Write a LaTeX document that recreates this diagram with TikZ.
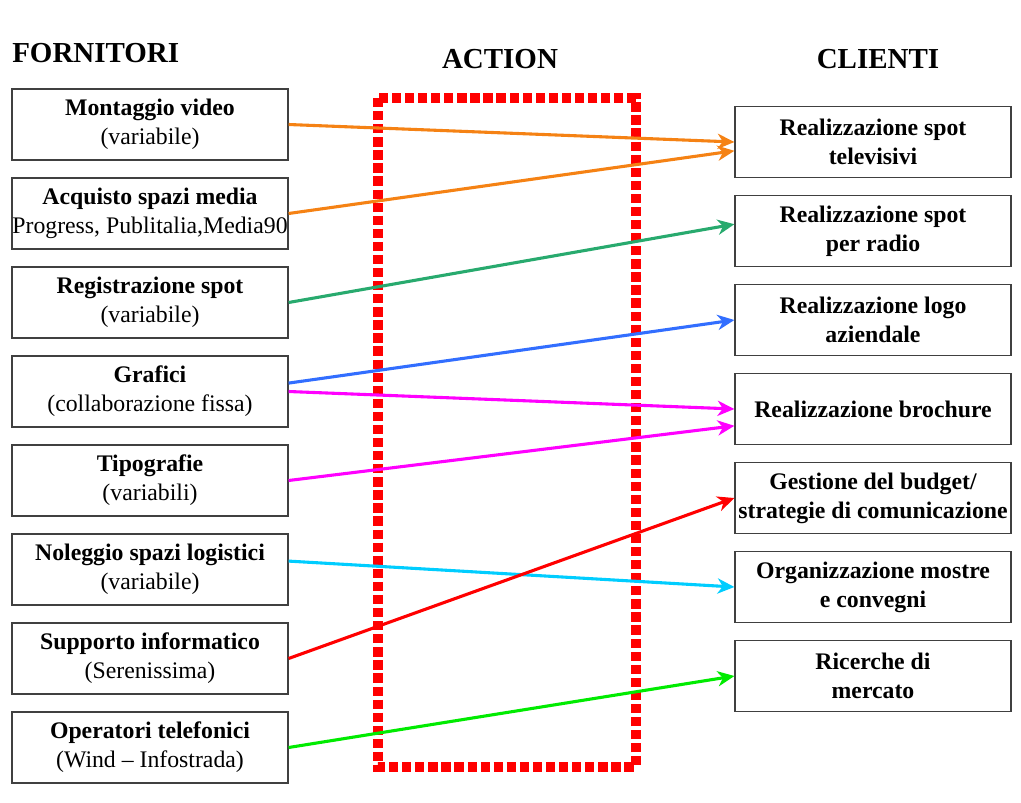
\documentclass[tikz,border=0pt]{standalone}
\usepackage{fontspec}
\setmainfont{Liberation Serif}
\usepackage{tikz}
\usetikzlibrary{arrows.meta, positioning}

\definecolor{cOrange}{RGB}{245,130,20}
\definecolor{cTeal}{RGB}{40,170,110}
\definecolor{cBlue}{RGB}{50,110,255}
\definecolor{cMagenta}{RGB}{255,0,255}
\definecolor{cCyan}{RGB}{0,205,255}
\definecolor{cRed}{RGB}{255,0,0}
\definecolor{cGreen}{RGB}{0,235,0}

\begin{document}
\begin{tikzpicture}[
  x=0.025cm, y=-0.025cm,
  box/.style={draw=black!75, line width=0.8pt, minimum width=6.9cm,
              minimum height=1.775cm, inner sep=0pt, align=center,
              font=\fontsize{16.9}{20.6}\selectfont},
  cbox/.style={box, font=\fontsize{16.9}{20.6}\selectfont\bfseries},
  title/.style={inner sep=0pt, font=\fontsize{20.6}{24}\selectfont\bfseries},
  arr/.style={-{Stealth[length=0.42cm, width=0.38cm, inset=0.13cm]},
              line width=2.2pt}
]
  \useasboundingbox (0,0) rectangle (1021,803);

  % Titles
  \node[title, anchor=west] (tforn) at (12,53) {FORNITORI};
  \node[title] (taction) at (500,59) {ACTION};
  \node[title] (tclienti) at (878,59) {CLIENTI};

  % Action area
  \draw[red, line width=6.6pt, dash pattern=on 6.6pt off 2.7pt]
    (378,98) rectangle (636,767);

  % Fornitori
  \node[box] (mont) at (150,124.5) {\textbf{Montaggio video}\\(variabile)};
  \node[box] (acq)  at (150,213.5) {\textbf{Acquisto spazi media}\\Progress, Publitalia,Media90};
  \node[box] (reg)  at (150,302.5) {\textbf{Registrazione spot}\\(variabile)};
  \node[box] (graf) at (150,391.5) {\textbf{Grafici}\\(collaborazione fissa)};
  \node[box] (tipo) at (150,480.5) {\textbf{Tipografie}\\(variabili)};
  \node[box] (nol)  at (150,569.5) {\textbf{Noleggio spazi logistici}\\(variabile)};
  \node[box] (supp) at (150,658.5) {\textbf{Supporto informatico}\\(Serenissima)};
  \node[box] (oper) at (150,747.5) {\textbf{Operatori telefonici}\\(Wind -- Infostrada)};

  % Clienti
  \node[cbox] (tv)     at (873,142) {Realizzazione spot\\televisivi};
  \node[cbox] (radio)  at (873,231) {Realizzazione spot\\per radio};
  \node[cbox] (logo)   at (873,320) {Realizzazione logo\\aziendale};
  \node[cbox] (broch)  at (873,409) {Realizzazione brochure};
  \node[cbox] (budget) at (873,498) {Gestione del budget/\\strategie di comunicazione};
  \node[cbox] (mostre) at (873,587) {Organizzazione mostre\\e convegni};
  \node[cbox] (ricer)  at (873,676) {Ricerche di\\mercato};

  % Links
  \draw[arr, cOrange]  (mont.east) -- (tv.west);
  \draw[arr, cOrange]  (acq.east) -- ([yshift=-0.22cm]tv.west);
  \draw[arr, cTeal]    (reg.east) -- ([yshift=0.17cm]radio.west);
  \draw[arr, cBlue]    ([yshift=0.21cm]graf.east) -- (logo.west);
  \draw[arr, cMagenta] (graf.east) -- (broch.west);
  \draw[arr, cMagenta] (tipo.east) -- ([yshift=-0.42cm]broch.west);
  \draw[arr, cCyan]    ([yshift=0.21cm]nol.east) -- (mostre.west);
  \draw[arr, cRed]     (supp.east) -- (budget.west);
  \draw[arr, cGreen]   (oper.east) -- (ricer.west);
\end{tikzpicture}
\end{document}
